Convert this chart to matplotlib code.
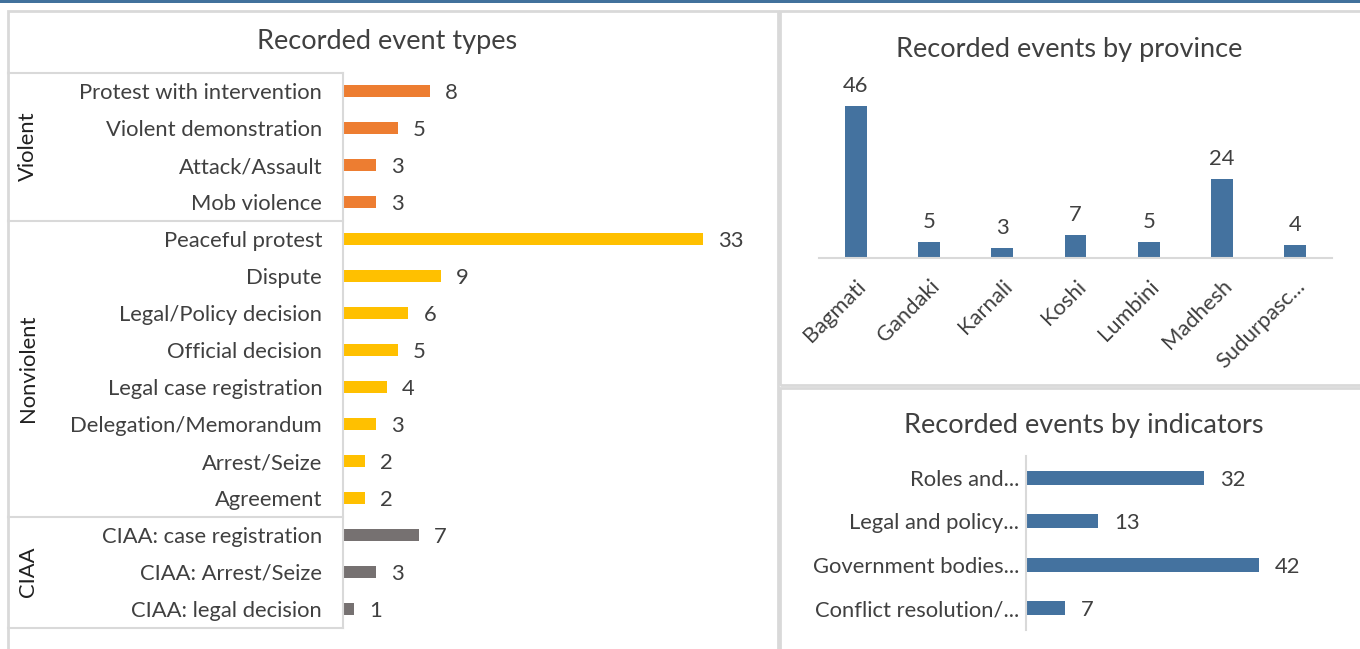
import matplotlib
matplotlib.use("Agg")
import matplotlib.pyplot as plt
import matplotlib.transforms as mtransforms
from matplotlib.patches import Rectangle
from matplotlib.lines import Line2D

# ---- data ----
event_groups = ["Violent", "Nonviolent", "CIAA"]
violent_types = ["Protest with intervention", "Violent demonstration",
                 "Attack/Assault", "Mob violence"]
violent_counts = [8, 5, 3, 3]
nonviolent_types = ["Peaceful protest", "Dispute", "Legal/Policy decision",
                    "Official decision", "Legal case registration",
                    "Delegation/Memorandum", "Arrest/Seize", "Agreement"]
nonviolent_counts = [33, 9, 6, 5, 4, 3, 2, 2]
ciaa_types = ["CIAA: case registration", "CIAA: Arrest/Seize", "CIAA: legal decision"]
ciaa_counts = [7, 3, 1]

provinces = ["Bagmati", "Gandaki", "Karnali", "Koshi", "Lumbini", "Madhesh", "Sudurpasc..."]
province_counts = [46, 5, 3, 7, 5, 24, 4]

indicators = ["Roles and...", "Legal and policy...", "Government bodies...",
              "Conflict resolution/..."]
indicator_counts = [32, 13, 42, 7]

# ---- style ----
W, H = 1360, 649
FONT = "Lato"
TXT = "#404040"
GRID = "#D9D9D9"
COLORS = {"Violent": "#ED7D31", "Nonviolent": "#FFC000", "CIAA": "#767171"}
BLUE = "#44729F"
LBL = 15.8
TITLE = 19.5

plt.rcParams["font.family"] = [FONT, "DejaVu Sans"]

fig = plt.figure(figsize=(W / 100, H / 100), dpi=100)


def box(x, y, w, h):
    """pixel box (top-left origin) -> figure fraction rect"""
    return [x / W, 1 - (y + h) / H, w / W, h / H]


# panel frames and top band
fig.add_artist(Rectangle((0, 1 - 3 / H), 1, 3 / H, transform=fig.transFigure,
                         color="#41719C", lw=0))
for (x, y, w, h) in [(8, 11, 770, 650), (780, 11, 582, 374), (780, 388, 582, 270)]:
    r = box(x, y, w, h)
    fig.add_artist(Rectangle((r[0], r[1]), r[2], r[3], transform=fig.transFigure,
                             fill=False, ec=GRID, lw=2))

# ---- left chart: event types ----
groups = [(event_groups[0], violent_types, violent_counts),
          (event_groups[1], nonviolent_types, nonviolent_counts),
          (event_groups[2], ciaa_types, ciaa_counts)]
labels, values, colors, bounds = [], [], [], []
for name, types, counts in groups:
    start = len(labels)
    labels += types
    values += counts
    colors += [COLORS[name]] * len(types)
    bounds.append((name, start, len(labels)))

ax1 = fig.add_axes(box(343, 72.5, 417, 555))
ypos = list(range(len(labels)))
ax1.barh(ypos, values, height=0.33, color=colors)
ax1.set_xlim(0, 417 / 10.9)
ax1.set_ylim(len(labels) - 0.5, -0.5)
ax1.set_yticks(ypos)
ax1.set_yticklabels(labels, fontsize=LBL, color=TXT)
ax1.tick_params(axis="y", length=0, pad=15)
ax1.set_xticks([])
for s in ["top", "right", "bottom"]:
    ax1.spines[s].set_visible(False)
ax1.spines["left"].set_color(GRID)
ax1.spines["left"].set_linewidth(1.5)
for y, v in zip(ypos, values):
    ax1.annotate(str(v), (v, y), xytext=(15, 0), textcoords="offset pixels",
                 ha="left", va="center_baseline", fontsize=LBL, color=TXT)

tr = ax1.get_yaxis_transform()
x_left = (8 - 343) / 417
for name, a, b in bounds:
    ax1.add_line(Line2D([x_left, 0], [a - 0.5, a - 0.5], transform=tr,
                        color=GRID, lw=1.5, clip_on=False))
    ax1.text((28 - 343) / 417, (a + b - 1) / 2, name, transform=tr, rotation=90,
             ha="center", va="center", fontsize=LBL, color="#202020")
ax1.add_line(Line2D([x_left, 0], [len(labels) - 0.5] * 2, transform=tr,
                    color=GRID, lw=1.5, clip_on=False))
fig.text(387 / W, 1 - 41 / H, "Recorded event types", ha="center", va="center",
         fontsize=TITLE, color=TXT)

# ---- right top: provinces ----
ax2 = fig.add_axes(box(819, 76.5, 513, 181.5))
xpos = list(range(len(provinces)))
ax2.bar(xpos, province_counts, width=0.3, color=BLUE)
ax2.set_xlim(-0.5, len(provinces) - 0.5)
ax2.set_ylim(0, 55)
ax2.set_yticks([])
ax2.set_xticks(xpos)
ax2.set_xticklabels(provinces, rotation=45, ha="right", rotation_mode="anchor",
                    fontsize=LBL, color=TXT)
shift = mtransforms.ScaledTranslation(10 / 100, 0, fig.dpi_scale_trans)
for t in ax2.get_xticklabels():
    t.set_transform(t.get_transform() + shift)
ax2.tick_params(axis="x", length=0, pad=13)
for s in ["top", "right", "left"]:
    ax2.spines[s].set_visible(False)
ax2.spines["bottom"].set_color(GRID)
ax2.spines["bottom"].set_linewidth(1.5)
for x, v in zip(xpos, province_counts):
    ax2.annotate(str(v), (x, v), xytext=(0, 10), textcoords="offset pixels",
                 ha="center", va="bottom", fontsize=LBL, color=TXT)
fig.text(1069 / W, 1 - 50 / H, "Recorded events by province", ha="center",
         va="center", fontsize=TITLE, color=TXT)

# ---- right bottom: indicators ----
ax3 = fig.add_axes(box(1026, 456, 290, 174))
ipos = list(range(len(indicators)))
ax3.barh(ipos, indicator_counts, height=0.33, color=BLUE)
ax3.set_xlim(0, 290 / 5.55)
ax3.set_ylim(len(indicators) - 0.5, -0.5)
ax3.set_yticks(ipos)
ax3.set_yticklabels(indicators, fontsize=LBL, color=TXT)
ax3.tick_params(axis="y", length=0, pad=5)
ax3.set_xticks([])
for s in ["top", "right", "bottom"]:
    ax3.spines[s].set_visible(False)
ax3.spines["left"].set_color(GRID)
ax3.spines["left"].set_linewidth(1.5)
for y, v in zip(ipos, indicator_counts):
    ax3.annotate(str(v), (v, y), xytext=(16, 0), textcoords="offset pixels",
                 ha="left", va="center_baseline", fontsize=LBL, color=TXT)
fig.text(1084 / W, 1 - 426 / H, "Recorded events by indicators", ha="center",
         va="center", fontsize=TITLE, color=TXT)

fig.savefig("out.png", dpi=100, facecolor="white")
